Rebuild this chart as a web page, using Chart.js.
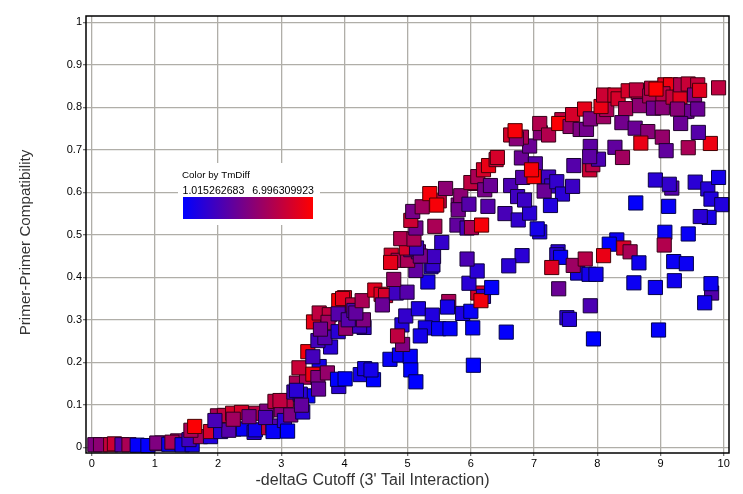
<!DOCTYPE html>
<html>
<head>
<meta charset="utf-8">
<title>Primer-Primer Compatibility</title>
<script src="https://cdn.jsdelivr.net/npm/chart.js@4"></script>
<style>
  html, body { margin: 0; padding: 0; background: #fff; }
  #wrap { width: 743px; height: 494px; }
</style>
</head>
<body>
<div id="wrap"><canvas id="scatterChart" width="743" height="494"></canvas></div>
<script>
// values, same order in all three arrays (later ones draw on top)
const cutoff = [
  0.05,0.14,0.3,0.36,0.48,0.59,0.72,0.89,1.04,1.11,
  1.03,1.22,1.36,1.27,1.43,1.59,1.54,1.72,1.57,1.88,
  1.88,2.04,1.63,1.99,2.1,2.23,2.37,2.25,2.17,2.4,
  2.57,2.59,2.6,2.77,2.8,2.87,2.87,1.95,2.24,2.49,
  2.75,2.9,3,3.05,3.1,3.08,2.98,3.15,3.2,3.24,
  3.34,3.42,3.3,3.4,3.6,3.28,3.5,3.58,3.73,3.59,
  3.32,3.24,3.91,3.89,4.01,4.34,4.25,4.32,4.46,4.42,
  3.42,3.5,3.78,3.58,3.69,3.51,3.6,3.76,3.74,3.62,
  3.91,4.0,3.97,4.13,3.9,4.02,4.31,4.24,4.3,3.9,
  4.06,4.15,4.18,4.28,4.48,4.58,4.65,4.6,4.82,4.99,
  4.78,4.72,4.87,5.04,5.05,5.13,4.91,4.97,4.92,4.84,
  5.17,5.39,5.28,5.2,5.49,5.67,5.65,5.63,5.87,6,
  6.03,6.56,6.04,6.11,6.2,6.16,5.97,6.33,6.1,5.94,
  5.32,5.13,5.37,5.4,5.41,4.74,4.85,5,4.73,5.17,
  5.05,5.2,4.98,5.14,4.89,5.1,5.54,5.13,5.05,5.43,
  5.08,5.23,5.5,5.35,5.46,5.6,5.8,5.84,5.8,5.97,
  5.78,5.94,6.01,6.17,6.27,6.54,6.75,6.93,7.09,7.05,
  6.07,6,6.11,6.2,6.28,6.4,6.42,6.22,6.31,6.63,
  6.74,6.85,6.82,6.8,7.02,7,6.96,6.93,6.63,6.8,
  6.72,6.7,7.1,7.09,7.23,7.44,7.39,7.57,7.61,7.73,
  7.83,7.8,7.89,8.1,8.15,8.06,8.1,8.28,8.33,8.49,
  8.45,8.65,8.62,8.67,8.83,8.86,9.07,8.89,9.03,9.16,
  9.04,9.2,9.31,9.32,9.44,9.59,9.54,8.93,9.62,9.92,
  9.38,9.42,9.27,9.59,9.32,8.39,8.6,8.8,8.69,9.03,
  9.09,9.44,9.79,9.6,8.28,8.4,7.88,7.93,8.02,7.89,
  7.88,7.63,7.23,7.28,7.16,7.36,7.45,7.61,7.26,8.92,
  9.18,9.14,9.55,9.75,9.92,9.8,9.97,9.77,9.63,9.13,
  8.61,9.44,9.07,9.06,8.31,8.19,8.42,8.52,7.38,7.36,
  7.42,6.81,6.6,7.28,7.69,7.62,7.81,8.1,7.87,7.98,
  8.66,9.21,9.41,9.22,8.58,8.92,9.81,9.8,9.7,7.39,
  7.89,7.52,7.56,7.94,8.97
];
const compatibility = [
  0.006,0.006,0.006,0.008,0.006,0.006,0.005,0.004,0.008,0.01,
  0.01,0.007,0.015,0.012,0.006,0.006,0.018,0.025,0.04,0.025,
  0.037,0.037,0.049,0.074,0.075,0.08,0.082,0.043,0.04,0.043,
  0.035,0.041,0.08,0.085,0.046,0.05,0.037,0.063,0.066,0.072,
  0.07,0.108,0.088,0.063,0.038,0.11,0.11,0.076,0.13,0.151,
  0.083,0.121,0.125,0.165,0.19,0.187,0.172,0.164,0.175,0.137,
  0.099,0.134,0.143,0.16,0.161,0.178,0.171,0.185,0.159,0.182,
  0.225,0.213,0.236,0.251,0.258,0.295,0.316,0.312,0.294,0.278,
  0.345,0.352,0.35,0.335,0.272,0.28,0.282,0.285,0.3,0.314,
  0.3,0.322,0.316,0.345,0.37,0.36,0.357,0.335,0.363,0.365,
  0.395,0.207,0.217,0.214,0.182,0.154,0.288,0.309,0.242,0.262,
  0.326,0.311,0.281,0.262,0.279,0.279,0.343,0.33,0.315,0.32,
  0.281,0.271,0.193,0.363,0.355,0.345,0.386,0.376,0.415,0.443,
  0.389,0.416,0.425,0.429,0.449,0.452,0.44,0.44,0.435,0.46,
  0.465,0.45,0.469,0.469,0.491,0.49,0.482,0.516,0.534,0.52,
  0.555,0.566,0.58,0.597,0.57,0.609,0.57,0.592,0.559,0.572,
  0.523,0.516,0.517,0.523,0.567,0.55,0.535,0.551,0.507,0.514,
  0.621,0.623,0.637,0.653,0.663,0.677,0.682,0.606,0.616,0.616,
  0.59,0.582,0.635,0.681,0.667,0.637,0.653,0.709,0.735,0.73,
  0.726,0.745,0.74,0.762,0.735,0.771,0.762,0.755,0.783,0.748,
  0.748,0.796,0.773,0.778,0.795,0.802,0.829,0.829,0.82,0.839,
  0.797,0.834,0.841,0.804,0.827,0.845,0.853,0.798,0.799,0.853,
  0.832,0.824,0.825,0.853,0.855,0.853,0.829,0.843,0.84,0.846,
  0.79,0.791,0.796,0.796,0.762,0.764,0.751,0.743,0.716,0.73,
  0.698,0.705,0.715,0.741,0.706,0.682,0.653,0.665,0.678,0.708,
  0.684,0.663,0.636,0.615,0.603,0.625,0.596,0.614,0.569,0.629,
  0.61,0.619,0.624,0.608,0.635,0.584,0.571,0.541,0.543,0.567,
  0.575,0.502,0.506,0.476,0.488,0.478,0.469,0.46,0.46,0.453,
  0.447,0.451,0.427,0.423,0.41,0.428,0.443,0.451,0.407,0.407,
  0.434,0.437,0.432,0.392,0.387,0.376,0.363,0.385,0.34,0.373,
  0.333,0.305,0.301,0.255,0.276
];
const tmDiff = [
  4,4.3,5.6,5.8,3,5,1.1,1.1,3,4.3,
  4,1.3,4.5,5,1.5,1.5,2.5,4.8,5,1.8,
  6,2,6.9,5,5.5,6,6,5.5,3,1.2,
  2,1.4,5.5,4,5.5,3,1.2,2.7,4.8,3.8,
  2.8,5.5,4.2,2,1,5.3,5.5,4,2.5,5,
  2,1.2,2,5,1.5,5.7,6.6,4,4.5,3.4,
  3.3,2,2,1,1,1.6,1.5,1.5,1,1.5,
  6.7,2.6,2,2.6,3,6.5,5.5,5.5,4.8,3.6,
  6.9,6.2,6.3,5.5,2,4.5,2.2,2.5,4,3,
  3,3,3.3,5,6.3,6.2,6,3.5,2.5,3,
  4.5,1.2,1.2,1.1,1,1,1.8,2.2,4,5.5,
  1.7,1.8,1.5,1.5,1.2,1.1,5,1.5,1.7,1.2,
  1.1,1.1,1,6,2,6.7,2,1.1,2,2.8,
  1.5,3.3,2,2.2,2.5,6,5,5,6.4,3.5,
  3.5,3.8,6,2.5,5.2,5,2.2,3.7,5.8,5,
  3.8,4.8,5.5,6.8,6.8,4.3,4,4.3,3.7,3,
  3.3,2.7,5,6.8,3,2.7,2.2,2,1.7,1.5,
  5,5.5,5,6,6.5,5.7,6,3.8,3.5,2.8,
  2.5,2.4,3,3.5,3,6.9,6.8,3.5,6,5,
  4.2,6.8,4.2,5.2,5.2,5.5,6.9,4.5,6,4,
  3.7,6.4,4,4.7,5,6.5,5.8,6,6,6,
  5,5.2,5.5,4.3,5,5.5,6.2,3.7,4.2,6.6,
  5.4,5.6,6.3,5.2,5.7,5.6,4,6.9,6.3,5.5,
  3.3,3.6,4.2,3.5,3.5,3.7,3.5,4.2,6.5,4.5,
  3.3,5,6.6,3,3.3,4.8,5.8,5.3,2.8,3.2,
  3.2,3,2.5,2.4,3.5,2.2,2,2.4,1.8,2,
  3,2.2,2,1.9,1.5,1.8,1.8,1.6,2,1.2,
  1.1,1.2,1.2,5.2,1.3,1,6,5,2,2,
  1.2,2,2,6.2,1.5,4.7,5.3,6.5,1.5,1.4,
  1.4,1.3,1.3,1.4,1.3,1.3,3,1.3,1.4,3.5,
  2.8,2,1.9,1,1.1
];
const tmMinLabel = '1.015262683';
const tmMaxLabel = '6.996309923';
const tmMin = 1.015262683;
const tmMax = 6.996309923;
const xTitle = "-deltaG Cutoff (3' Tail Interaction)";
const yTitle = 'Primer-Primer Compatibility';

const FONT = '"Liberation Sans", Arial, sans-serif';

function tmColor(t, shade) {
    const f = Math.min(1, Math.max(0, (t - tmMin) / (tmMax - tmMin)));
    return 'rgb(' + Math.round(255 * f * shade) + ',0,' + Math.round(255 * (1 - f) * shade) + ')';
}

// closes the plot box, paints the colour key over the grid, places the axis titles
const frameAndKey = {
    id: 'frameAndKey',
    afterDatasetsDraw(chart) {
        const ctx = chart.ctx;
        const a = chart.chartArea;
        ctx.save();
        ctx.strokeStyle = '#000';
        ctx.lineWidth = 1.5;
        ctx.strokeRect(a.left, a.top, a.right - a.left, a.bottom - a.top);

        ctx.fillStyle = '#fff';
        ctx.fillRect(178, 163, 142, 62);
        ctx.fillStyle = '#000';
        ctx.textBaseline = 'alphabetic';
        ctx.font = '9.8px ' + FONT;
        ctx.textAlign = 'left';
        ctx.fillText('Color by TmDiff', 182, 178);
        ctx.font = '10.6px ' + FONT;
        ctx.fillText(tmMinLabel, 182.5, 194);
        ctx.textAlign = 'right';
        ctx.fillText(tmMaxLabel, 314, 194);

        const grad = ctx.createLinearGradient(183, 0, 313, 0);
        grad.addColorStop(0, '#0000ff');
        grad.addColorStop(1, '#ff0000');
        ctx.fillStyle = grad;
        ctx.fillRect(183, 197, 130, 22);

        ctx.fillStyle = '#333';
        ctx.textAlign = 'center';
        ctx.textBaseline = 'middle';
        ctx.font = '16px ' + FONT;
        ctx.fillText(xTitle, 372.5, 481);
        ctx.translate(26, 242.5);
        ctx.rotate(-Math.PI / 2);
        ctx.font = '15.2px ' + FONT;
        ctx.fillText(yTitle, 0, 0);
        ctx.restore();
    }
};

document.addEventListener('DOMContentLoaded', function () {
    const ctx = document.getElementById('scatterChart').getContext('2d');
    new Chart(ctx, {
        type: 'scatter',
        data: {
            datasets: [{
                label: 'TmDiff',
                data: cutoff.map((x, i) => ({ x: x, y: compatibility[i] })),
                pointStyle: 'rect',
                pointRadius: 10,
                pointHoverRadius: 10,
                pointBorderWidth: 1,
                pointBackgroundColor: tmDiff.map(t => tmColor(t, 1)),
                pointBorderColor: tmDiff.map(t => tmColor(t, 0.3)),
                clip: false
            }]
        },
        options: {
            responsive: false,
            animation: false,
            layout: { padding: { top: 16, right: 14, left: 0, bottom: 0 } },
            plugins: { legend: { display: false }, tooltip: { enabled: false } },
            scales: {
                x: {
                    type: 'linear',
                    min: -0.09,
                    max: 10.085,
                    afterFit(scale) { scale.height = 41; },
                    border: { display: false },
                    grid: { color: '#b0aea8', lineWidth: 1.3, tickLength: 3, tickColor: '#777' },
                    ticks: {
                        stepSize: 1,
                        includeBounds: false,
                        maxRotation: 0,
                        padding: 1,
                        color: '#000',
                        font: { family: FONT, size: 11 }
                    }
                },
                y: {
                    min: -0.0135,
                    max: 1.015,
                    afterFit(scale) { scale.width = 86; },
                    border: { display: false },
                    grid: { color: '#b0aea8', lineWidth: 1.3, tickLength: 3, tickColor: '#777' },
                    ticks: {
                        stepSize: 0.1,
                        includeBounds: false,
                        padding: 1,
                        color: '#000',
                        font: { family: FONT, size: 11 },
                        callback: v => String(Math.round(v * 10) / 10)
                    }
                }
            }
        },
        plugins: [frameAndKey]
    });
});
</script>
</body>
</html>
